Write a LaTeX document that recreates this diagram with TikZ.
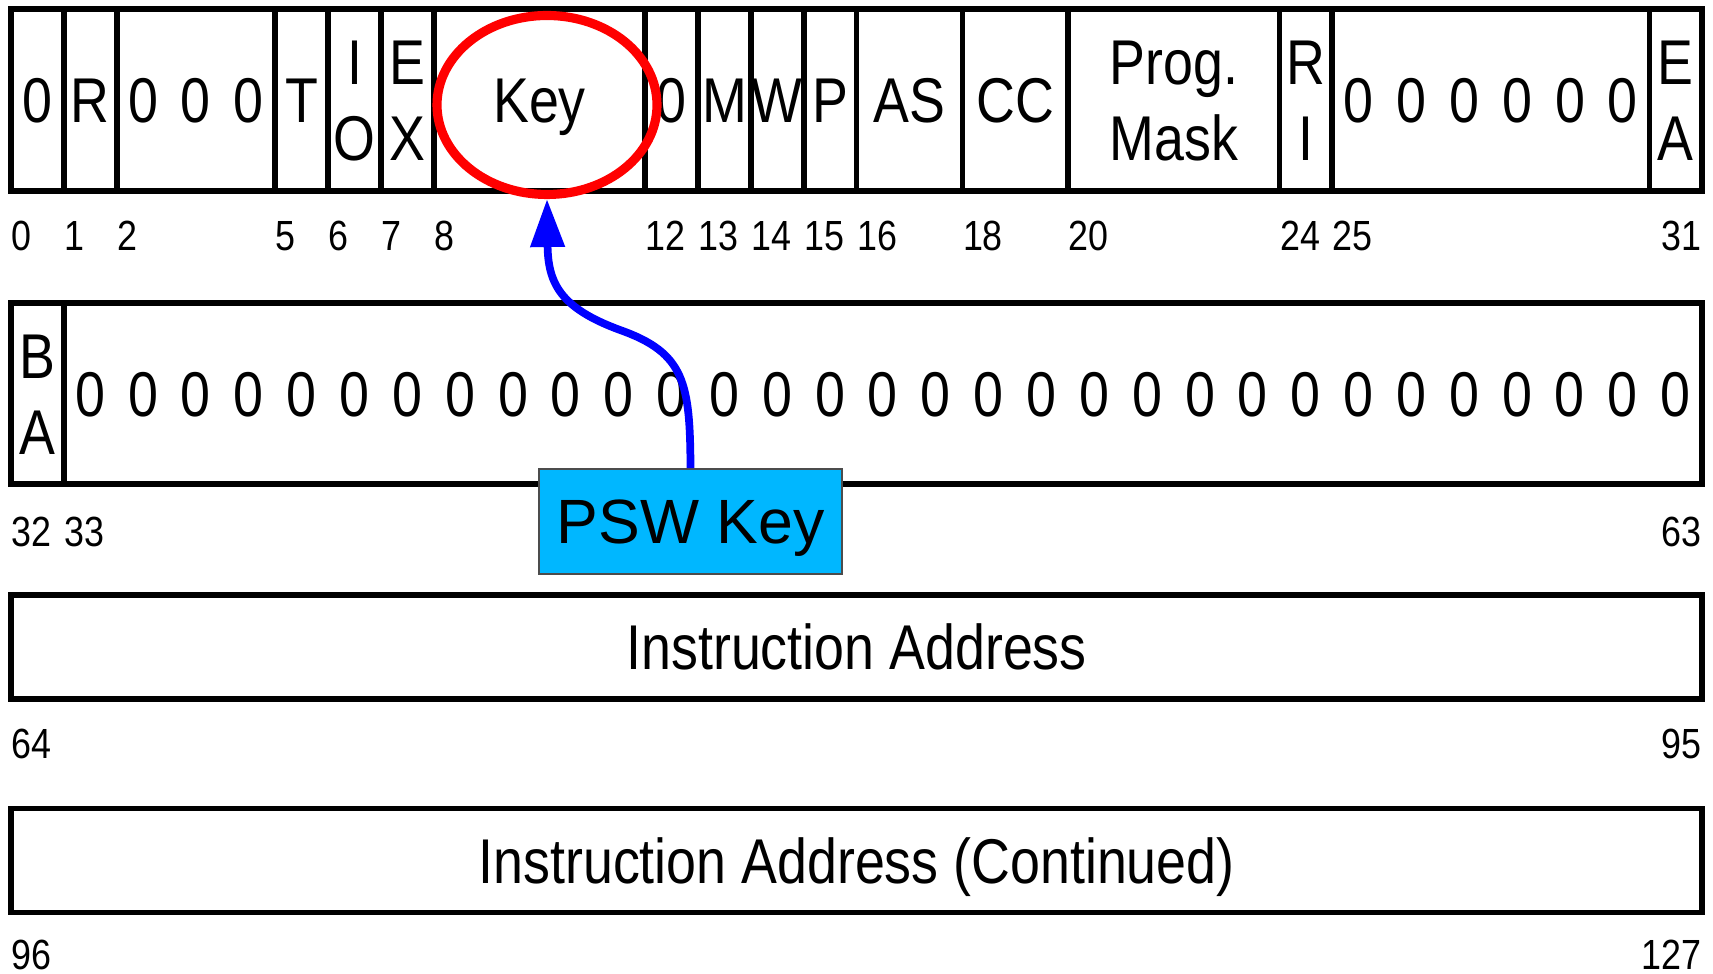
\documentclass[tikz,border=0pt]{standalone}
\usepackage{fontspec}
\setmainfont[FakeStretch=0.85]{Liberation Sans}
\newfontfamily\pswfont{Liberation Sans}
\usetikzlibrary{shapes.geometric,arrows.meta}
\definecolor{pswblue}{RGB}{0,183,255}
\newcommand\bitw{0.5285}
\newcommand\zeros[1]{\foreach \z in {1,...,#1}{\makebox[\bitw cm]{0}}}

\begin{document}
\begin{tikzpicture}[
  field/.style={draw, line width=1.6pt, anchor=north west, inner sep=0pt, outer sep=0pt,
    font=\fontsize{18}{21}\selectfont, text height=12.9pt, text depth=0pt},
  bitlbl/.style={inner sep=0pt, font=\fontsize{18}{21}\selectfont, text height=12.9pt, text depth=0pt},
  bitnum/.style={inner sep=0pt, font=\fontsize{12}{14}\selectfont, text height=8.6pt, text depth=0pt},
  keyring/.style={draw=red, line width=2.6pt, ellipse, minimum width=2.2cm, minimum height=1.79cm},
  pswbox/.style={draw=black!70, line width=0.5pt, fill=pswblue, minimum width=3.03cm,
    minimum height=1.05cm, text height=12.6pt, text depth=0pt,
    font=\pswfont\fontsize{17.8}{20}\selectfont},
  keyarrow/.style={-{Triangle[length=4.8mm,width=3.3mm]}, blue, line width=2.2pt}]

  \useasboundingbox (0,0) rectangle (17.13,9.73);

  % Word 1 (bits 0-31)
  \foreach \a/\b/\txt in {0/1/0, 1/2/R, 2/5/{\zeros{3}}, 5/6/T, 6/7/{}, 7/8/{}, 8/12/Key,
      12/13/0, 13/14/M, 14/15/W, 15/16/P, 16/18/AS, 18/20/CC, 20/24/{}, 24/25/{},
      25/31/{\zeros{6}}, 31/32/{}} {
    \pgfmathsetmacro\w{(\b-\a)*\bitw}
    \node[field, minimum width=\w cm, minimum height=1.82cm] (b\a) at ({0.11+\a*\bitw},9.64) {\txt};
  }
  \foreach \a in {0,1,2,5,6,7,8,12,13,14,15,16,18,20,24,25}
    \node[bitnum, anchor=west] (n\a) at ({0.11+\a*\bitw},7.38) {\a};
  \node[bitnum, anchor=east] (n31) at (17.022,7.38) {31};

  % Word 2 (bits 32-63)
  \node[field, minimum width=0.5285cm, minimum height=1.81cm] (b32) at (0.11,6.70) {};
  \node[field, minimum width=16.3835cm, minimum height=1.81cm] (b33) at (0.6385,6.70) {\zeros{31}};
  \node[bitnum, anchor=west] (n32) at (0.11,4.42) {32};
  \node[bitnum, anchor=west] (n33) at (0.6385,4.42) {33};
  \node[bitnum, anchor=east] (n63) at (17.022,4.42) {63};

  % two-line labels
  \foreach \a/\u/\l in {6/I/O, 7/E/X, 20/Prog./Mask, 24/R/I, 31/E/A, 32/B/A} {
    \node[bitlbl] (b\a-hi) at ([yshift=0.38cm]b\a.center) {\u};
    \node[bitlbl] (b\a-lo) at ([yshift=-0.38cm]b\a.center) {\l};
  }

  % Words 3 and 4
  \node[field, minimum width=16.912cm, minimum height=1.04cm] (ia) at (0.11,3.78) {Instruction Address};
  \node[bitnum, anchor=west] (n64) at (0.11,2.30) {64};
  \node[bitnum, anchor=east] (n95) at (17.022,2.30) {95};
  \node[field, minimum width=16.912cm, minimum height=1.04cm] (iac) at (0.11,1.645) {Instruction Address (Continued)};
  \node[bitnum, anchor=west] (n96) at (0.11,0.19) {96};
  \node[bitnum, anchor=east] (n127) at (17.022,0.19) {127};

  % Key highlight
  \node[keyring] (ring) at (5.47,8.68) {};
  \node[pswbox] (psw) at (6.905,4.515) {PSW Key};
  \draw[keyarrow] (psw.north) .. controls (6.90,5.9) and (6.85,6.2) .. (6.2,6.43)
    .. controls (5.6,6.65) and (5.48,6.9) .. (ring.south);
\end{tikzpicture}
\end{document}
